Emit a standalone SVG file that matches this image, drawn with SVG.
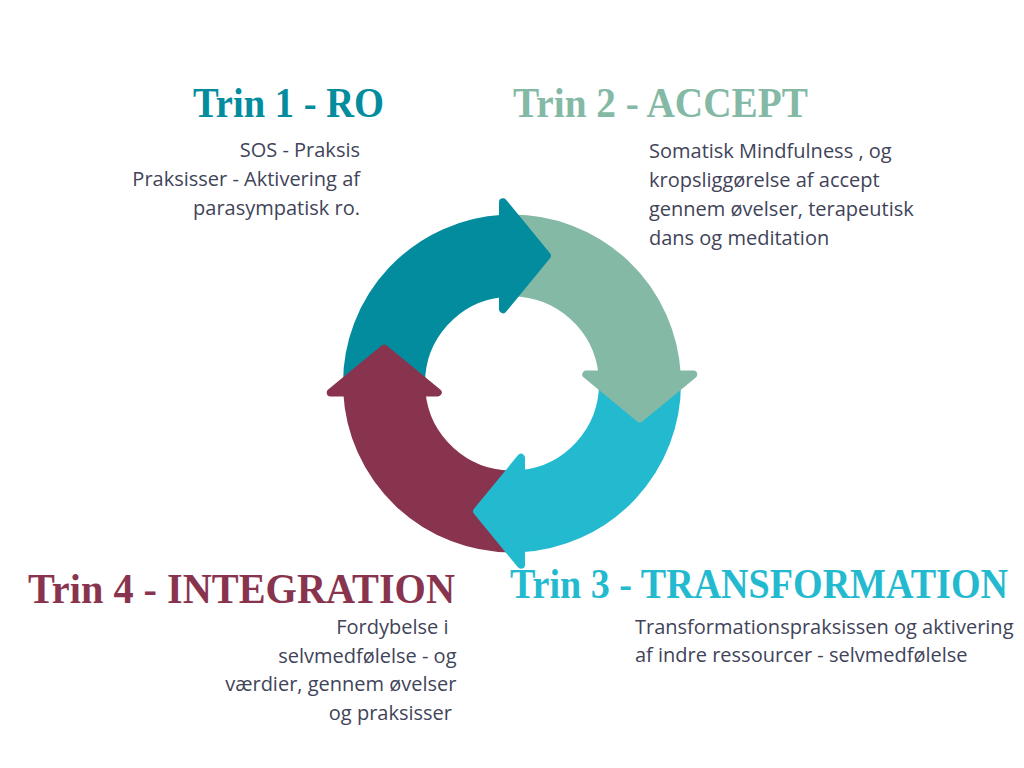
<svg xmlns="http://www.w3.org/2000/svg" width="1024" height="768" viewBox="0 0 1024 768">
<style>
.title{font-family:"Liberation Serif","DejaVu Serif",serif;font-size:43px;font-weight:bold}
.body{font-family:"Open Sans","Liberation Sans",sans-serif;font-size:20px;fill:#3F4459}
.seg{stroke-width:8;stroke-linejoin:round}
.c1{fill:#028C9D;stroke:#028C9D}
.c2{fill:#84B9A6;stroke:#84B9A6}
.c3{fill:#23BACF;stroke:#23BACF}
.c4{fill:#89344E;stroke:#89344E}
.t1{fill:#028C9D}
.t2{fill:#84B9A6}
.t3{fill:#23BACF}
.t4{fill:#89344E}
</style>
<defs>
<path id="arcbody" d="M347,383.5 A165,165 0 0 1 503,218.75 L503,292.95 A91,91 0 0 0 421,383.5 Z"/>
<path id="arrowhead" d="M503,202.2 L546.9,255.7 L503,309.2 Z"/>
</defs>
<rect width="1024" height="768" fill="#FFFFFF"/>
<g id="cycle">
<use href="#arcbody" class="seg c1"/>
<use href="#arcbody" class="seg c2" transform="rotate(90 512 383.5)"/>
<use href="#arcbody" class="seg c3" transform="rotate(180 512 383.5)"/>
<use href="#arcbody" class="seg c4" transform="rotate(270 512 383.5)"/>
<use href="#arrowhead" class="seg c1"/>
<use href="#arrowhead" class="seg c2" transform="rotate(90 512 383.5)"/>
<use href="#arrowhead" class="seg c3" transform="rotate(180 512 383.5)"/>
<use href="#arrowhead" class="seg c4" transform="rotate(270 512 383.5)"/>
</g>
<g id="step1">
<text class="title t1" x="193" y="117" textLength="191" lengthAdjust="spacingAndGlyphs">Trin 1 - RO</text>
<text class="body" text-anchor="end"><tspan x="360" y="157">SOS - Praksis</tspan><tspan x="360" y="186">Praksisser - Aktivering af</tspan><tspan x="360" y="215">parasympatisk ro.</tspan></text>
</g>
<g id="step2">
<text class="title t2" x="513" y="117" textLength="295" lengthAdjust="spacingAndGlyphs">Trin 2 - ACCEPT</text>
<text class="body"><tspan x="649" y="157.5">Somatisk Mindfulness , og</tspan><tspan x="649" y="186.5">kropsliggørelse af accept</tspan><tspan x="649" y="215.5">gennem øvelser, terapeutisk</tspan><tspan x="649" y="244.5">dans og meditation</tspan></text>
</g>
<g id="step3">
<text class="title t3" x="510" y="542.36" transform="scale(1,1.1026)" style="font-size:39px" textLength="498" lengthAdjust="spacingAndGlyphs">Trin 3 - TRANSFORMATION</text>
<text class="body"><tspan x="635" y="634">Transformationspraksissen og aktivering</tspan><tspan x="635" y="662">af indre ressourcer - selvmedfølelse</tspan></text>
</g>
<g id="step4">
<text class="title t4" x="28" y="603" textLength="427" lengthAdjust="spacingAndGlyphs">Trin 4 - INTEGRATION</text>
<text class="body" text-anchor="end"><tspan x="448.5" y="634">Fordybelse i</tspan><tspan x="456.5" y="662.5">selvmedfølelse - og</tspan><tspan x="456.5" y="691">værdier, gennem øvelser</tspan><tspan x="452" y="719.5">og praksisser</tspan></text>
</g>
</svg>
